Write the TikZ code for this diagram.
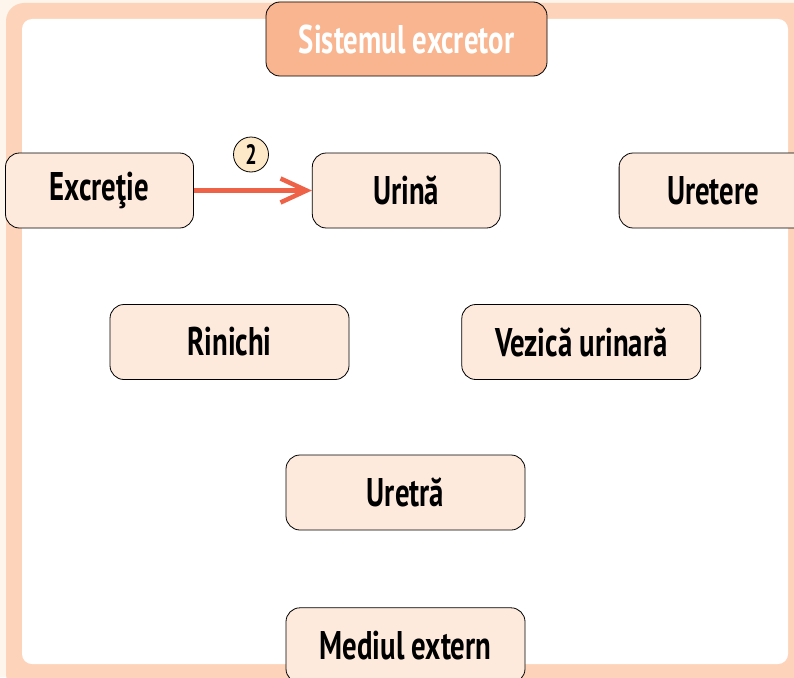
\documentclass[tikz,border=0pt]{standalone}
\usepackage{fontspec}
\setmainfont{PT Sans}[FakeStretch=0.72]
\usepackage{tikz}
\usetikzlibrary{arrows.meta, positioning, calc}
\definecolor{mycream}{RGB}{254,246,236}
\definecolor{myframe}{RGB}{253,212,186}
\definecolor{hdrpeach}{RGB}{249,181,143}
\definecolor{boxfill}{RGB}{253,234,221}
\definecolor{circfill}{RGB}{253,233,200}
\definecolor{myred}{RGB}{238,98,72}
\tikzset{
  box/.style={rectangle, draw=black, fill=boxfill,
    minimum width=188pt, minimum height=75pt, inner sep=0pt,
    font=\fontsize{40}{44}\selectfont\bfseries, rounded corners=14pt, line width=0.8pt},
  widebox/.style={box, minimum width=239pt},
  titlebox/.style={box, fill=hdrpeach, text=white, minimum width=281pt, minimum height=74pt},
  numcirc/.style={circle, draw=black, fill=circfill,
    minimum size=35pt, inner sep=0pt, line width=0.8pt,
    font=\fontsize{28}{30}\selectfont\bfseries},
  redarrow/.style={-{Straight Barb[length=26pt, width=24pt]}, line width=4.5pt, color=myred}
}
\begin{document}
\begin{tikzpicture}[x=1pt, y=-1pt]
  \useasboundingbox (0,0) rectangle (794,677);
  % frame
  \fill[mycream] (0,0) rectangle (794,677);
  \fill[myframe, rounded corners=18pt] (6,3) rectangle (812,692);
  \fill[white, rounded corners=10pt] (22,19) rectangle (788,664);

  \node[titlebox] (title) at (406.5,39) {Sistemul excretor};
  \node[box] (excretie) at (99.5,190.5) {Excreţie};
  \node[box, right=118pt of excretie] (urina) {Urină};
  \node[box, right=118pt of urina] (uretere) {Uretere};
  \node[widebox] (rinichi) at (229.5,342) {Rinichi};
  \node[widebox, right=112pt of rinichi] (vezica) {Vezică urinară};
  \node[widebox] (uretra) at (405.5,492.5) {Uretră};
  \node[widebox, below=77pt of uretra] (mediu) {Mediul extern};

  \draw[redarrow] (excretie) -- (urina);
  \node[numcirc] (n2) at (251,154.5) {2};
\end{tikzpicture}
\end{document}
